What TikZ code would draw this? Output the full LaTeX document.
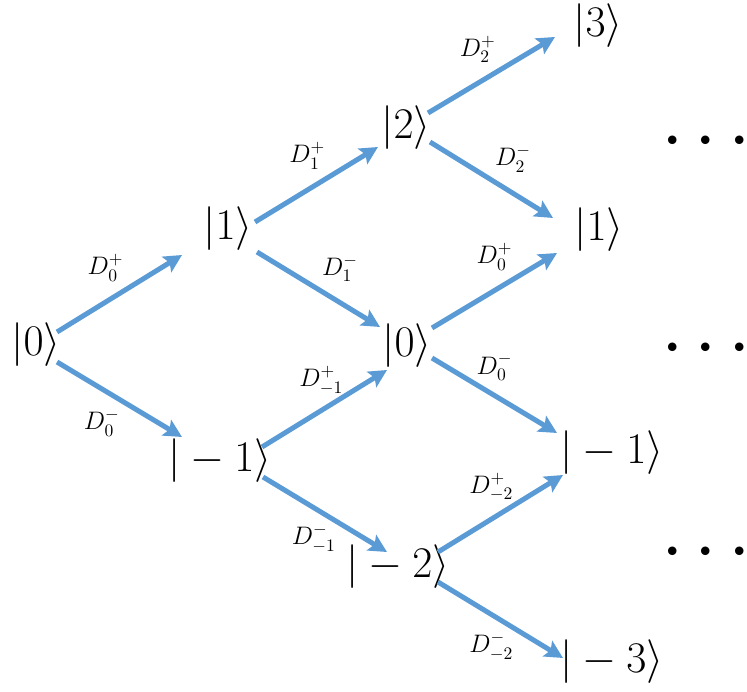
\documentclass[tikz,border=0pt]{standalone}
\usepackage{tikz}
\usepackage{amsmath,amssymb}
\usetikzlibrary{arrows.meta}
\definecolor{arrblue}{RGB}{91,155,213}

\begin{document}
\begin{tikzpicture}[
        x=0.02cm,y=-0.02cm,
        state/.style={font=\Huge,inner sep=0pt},
        dots/.style={font=\Huge,inner sep=0pt,scale=1.85},
        arr/.style={-{Stealth[length=0.36cm,width=0.36cm,inset=0.07cm]},
                    arrblue,line width=0.1cm},
        lbl/.style={font=\Large,text=black,inner sep=2pt},
      ]
        \useasboundingbox (0,0) rectangle (747,692);
        % states
        \node[state](z0) at (36,345){$|0\rangle$};
        \node[state](p1) at (228,229){$|1\rangle$};
        \node[state](m1) at (220,461){$|-1\rangle$};
        \node[state](p2) at (406,128){$|2\rangle$};
        \node[state](z1) at (407,346){$|0\rangle$};
        \node[state](m2) at (398,567){$|-2\rangle$};
        \node[state](p3) at (598,26){$|3\rangle$};
        \node[state](q1) at (599,230){$|1\rangle$};
        \node[state](n1) at (612,453){$|-1\rangle$};
        \node[state](m3) at (612,662){$|-3\rangle$};
        \node[dots](d1) at (706,143){${\cdot}\hspace{3.4pt}{\cdot}\hspace{3.4pt}{\cdot}$};
        \node[dots](d2) at (706,350){${\cdot}\hspace{3.4pt}{\cdot}\hspace{3.4pt}{\cdot}$};
        \node[dots](d3) at (706,554){${\cdot}\hspace{3.4pt}{\cdot}\hspace{3.4pt}{\cdot}$};
        % transitions
        \draw[arr]([shift={(21,-13)}]z0.center)--node[lbl,above left,pos=.58](a1){$D_0^+$}([shift={(-46,26)}]p1.center);
        \draw[arr]([shift={(21,17)}]z0.center)--node[lbl,below left,pos=.55](a2){$D_0^-$}([shift={(-38,-24)}]m1.center);
        \draw[arr]([shift={(27,-7)}]p1.center)--node[lbl,above left,pos=.62](a3){$D_1^+$}([shift={(-28,19)}]p2.center);
        \draw[arr]([shift={(29,23)}]p1.center)--node[lbl,above right,pos=.48](a4){$D_1^-$}([shift={(-27,-19)}]z1.center);
        \draw[arr]([shift={(42,-14)}]m1.center)--node[lbl,above left,pos=.6,xshift=7pt](a5){$D_{-1}^+$}([shift={(-20,24)}]z1.center);
        \draw[arr]([shift={(43,16)}]m1.center)--node[lbl,below left,pos=.55,xshift=6pt](a6){$D_{-1}^-$}([shift={(-11,-15)}]m2.center);
        \draw[arr]([shift={(22,-15)}]p2.center)--node[lbl,above left,pos=.58](a7){$D_2^+$}([shift={(-43,11)}]p3.center);
        \draw[arr]([shift={(24,14)}]p2.center)--node[lbl,above right,pos=.48](a8){$D_2^-$}([shift={(-46,-12)}]q1.center);
        \draw[arr]([shift={(25,-18)}]z1.center)--node[lbl,above=8pt](a9){$D_0^+$}([shift={(-42,23)}]q1.center);
        \draw[arr]([shift={(25,12)}]z1.center)--node[lbl,above=5pt](a10){$D_0^-$}([shift={(-55,-20)}]n1.center);
        \draw[arr]([shift={(40,-15)}]m2.center)--node[lbl,above left,pos=.58,xshift=5pt](a11){$D_{-2}^+$}([shift={(-49,22)}]n1.center);
        \draw[arr]([shift={(40,15)}]m2.center)--node[lbl,below left,pos=.58,xshift=5pt](a12){$D_{-2}^-$}([shift={(-49,-4)}]m3.center);
      \end{tikzpicture}
\end{document}
